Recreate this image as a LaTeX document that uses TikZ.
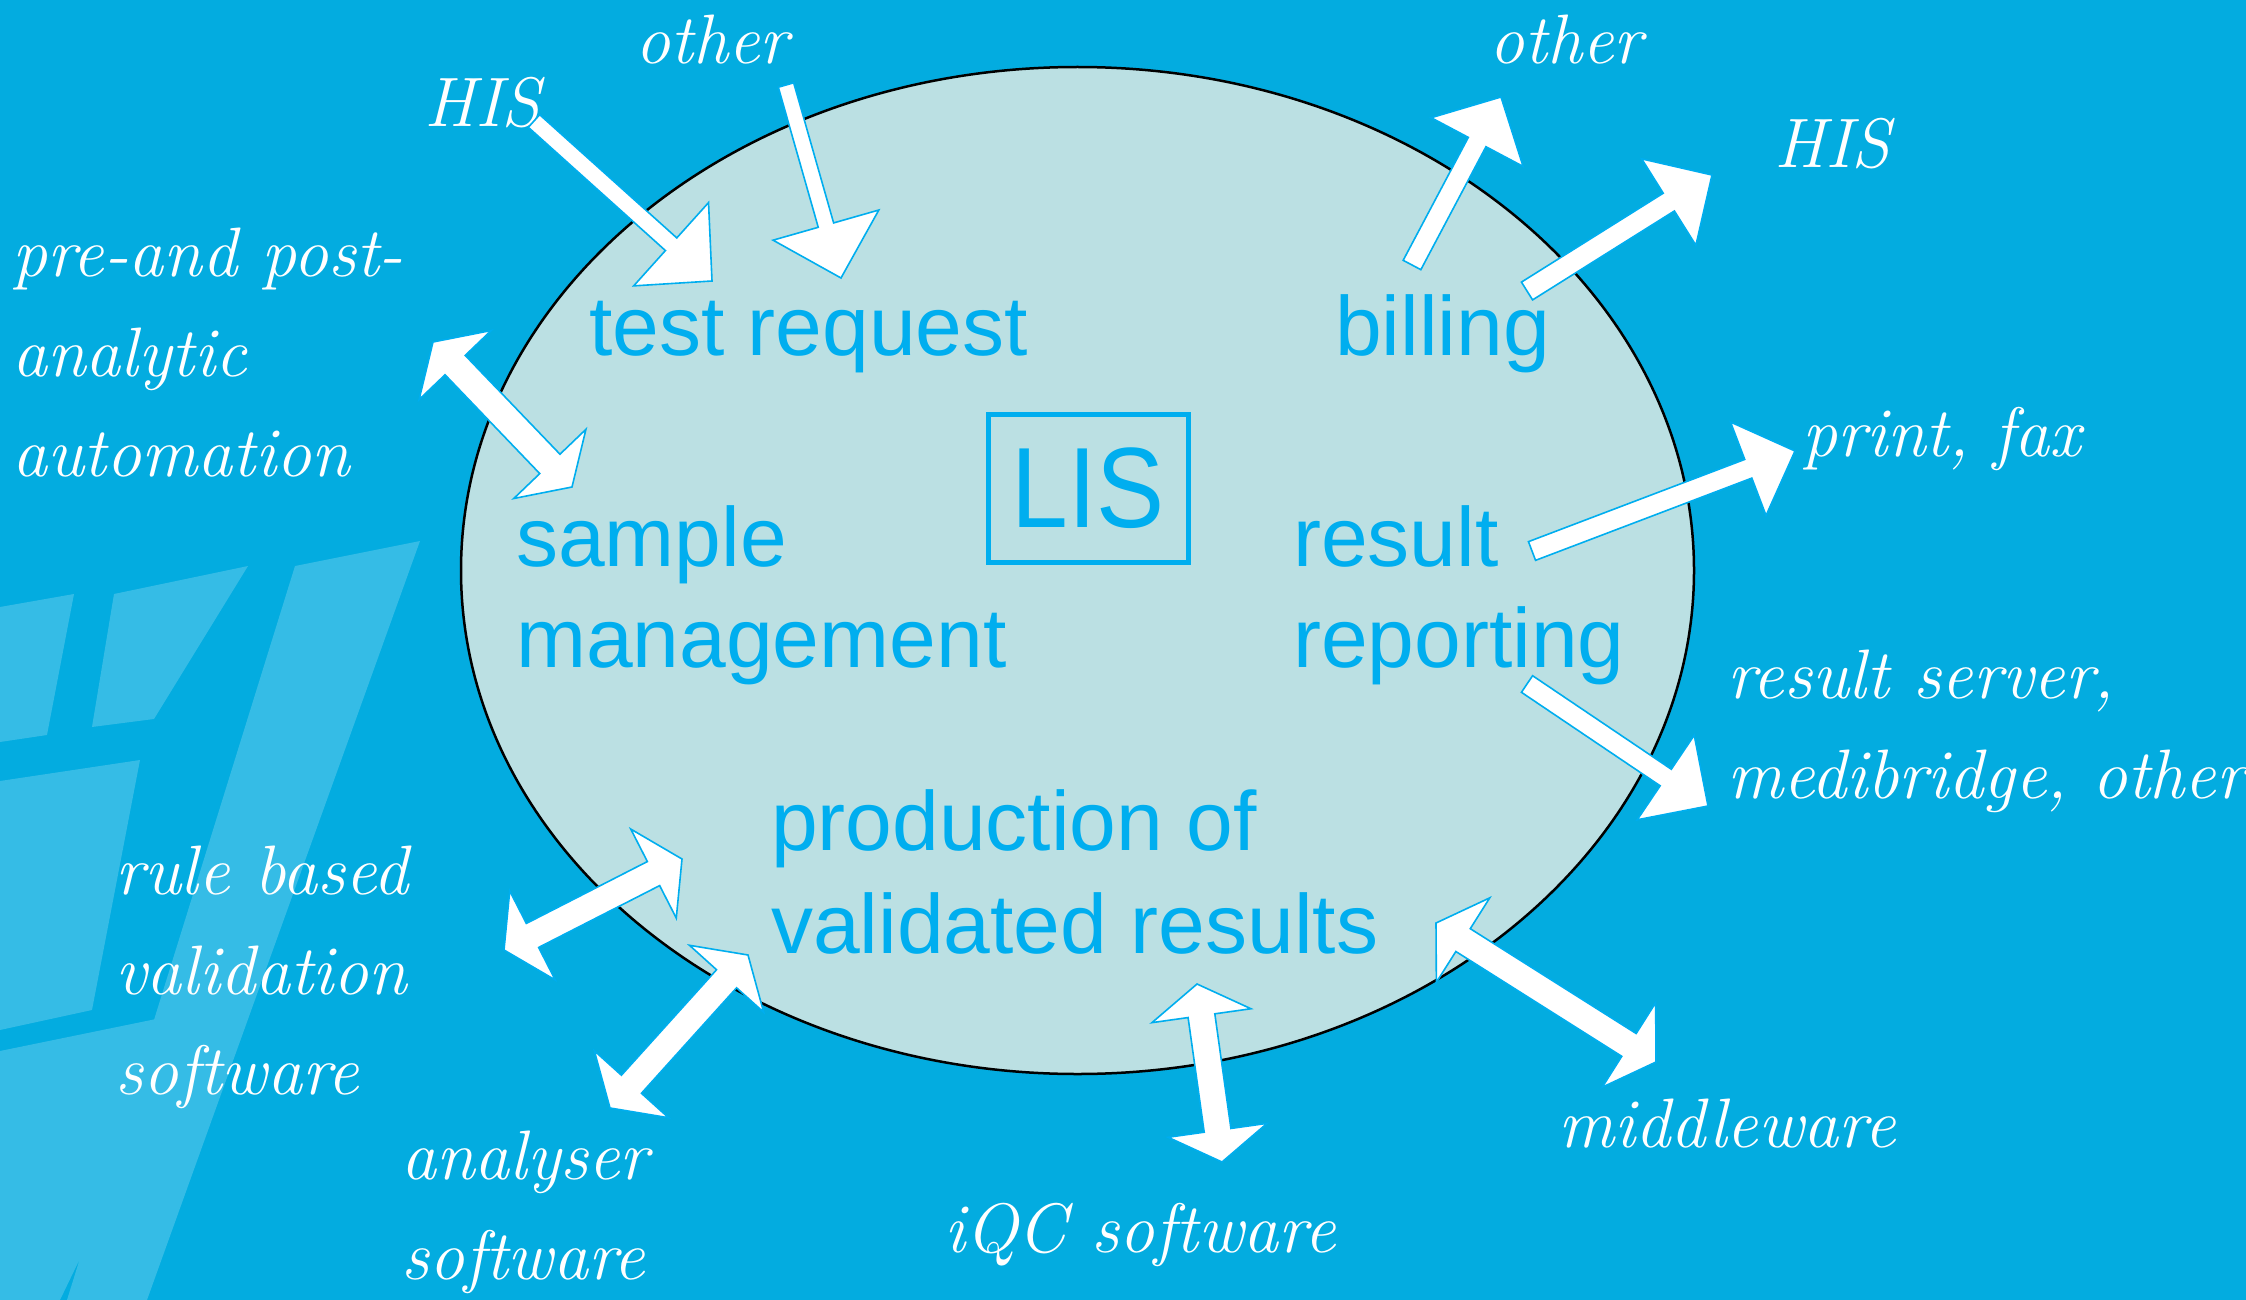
\documentclass[tikz,border=0pt]{standalone}
\usepackage{fontspec}
\usetikzlibrary{calc}
\newfontfamily\sansfam{Liberation Sans}
\newfontfamily\labelfam{Latin Modern Roman}
\definecolor{bgblue}{RGB}{3,172,224}
\definecolor{lisfill}{RGB}{187,224,227}
\definecolor{liscyan}{RGB}{0,174,239}

% single block arrow: tail, tip, half shaft width, half head width, head length
\newcommand\onearrow[5]{%
  \coordinate (hA) at ($(#2)!#5!(#1)$);
  \filldraw[blockarrow] ($(#1)!#3!90:(#2)$) -- ($(hA)!#3!90:(#2)$) -- ($(hA)!#4!90:(#2)$)
    -- (#2) -- ($(hA)!#4!-90:(#2)$) -- ($(hA)!#3!-90:(#2)$) -- ($(#1)!#3!-90:(#2)$) -- cycle;
}
% double block arrow between two tips
\newcommand\twoarrow[5]{%
  \coordinate (hA) at ($(#1)!#5!(#2)$);
  \coordinate (hB) at ($(#2)!#5!(#1)$);
  \filldraw[blockarrow] (#1) -- ($(hA)!#4!90:(#2)$) -- ($(hA)!#3!90:(#2)$) -- ($(hB)!#3!90:(#2)$)
    -- ($(hB)!#4!90:(#2)$) -- (#2) -- ($(hB)!#4!-90:(#2)$) -- ($(hB)!#3!-90:(#2)$)
    -- ($(hA)!#3!-90:(#2)$) -- ($(hA)!#4!-90:(#2)$) -- cycle;
}
\newcommand\tallLIS[1]{\scalebox{1}[1.12]{#1}}

\begin{document}
\begin{tikzpicture}[x=1pt,y=-1pt,
  blockarrow/.style={fill=white, draw=liscyan, line width=1.6pt, line join=miter},
  main/.style={anchor=base west, inner sep=0pt, text=liscyan, align=left,
    font=\sansfam\fontsize{84}{101}\selectfont},
  lbl/.style={inner sep=0pt, text=white, align=left,
    font=\labelfam\itshape\fontsize{70}{100}\selectfont},
  watermark/.style={fill=white, fill opacity=0.2}]

% page and background
\useasboundingbox (0,0) rectangle (2246,1300);
\fill[bgblue] (0,0) rectangle (2246,1300);

% faint emblem on the left (one path, so overlaps are not brighter)
\fill[watermark] (0,607) -- (74,594) -- (47,735) -- (0,742) -- cycle
  (114,594) -- (248,566) -- (154,719) -- (92,727) -- cycle
  (0,781) -- (140,760) -- (92,1010) -- (0,1030) -- cycle
  (295,566) -- (420,541) -- (147,1300) -- (67,1300) -- cycle
  (0,1051) -- (200,1010) -- (60,1300) -- (0,1300) -- cycle;

% the LIS ellipse
\filldraw[fill=lisfill, draw=black, line width=2.5pt] (1077.5,570.5) ellipse [x radius=616.5, y radius=503.5];

% functions inside (base = baseline of the last line)
\node[main] (treq) at (589,355) {test request};
\node[main] (bill) at (1335,355) {billing};
\node[main] (smp) at (516,667) {sample\\management};
\node[main] (res) at (1293,667) {result\\reporting};
\node[main, font=\sansfam\fontsize{84}{103}\selectfont] (prod) at (771,953) {production of\\validated results};
\node[draw=liscyan, line width=5pt, minimum width=200pt, minimum height=148pt,
      text=liscyan, font=\sansfam\fontsize{102}{110}\selectfont] (lis) at (1088,488) {\tallLIS{LIS}};

% partner systems
\node[lbl, anchor=base] (other1) at (712,64) {other};
\node[lbl, anchor=base] (his1) at (482,127) {HIS};
\node[lbl, anchor=base west] (auto) at (12,476) {pre-and post-\\analytic\\automation};
\node[lbl, anchor=base] (other2) at (1566,64) {other};
\node[lbl, anchor=base] (his2) at (1832,168) {HIS};
\node[lbl, anchor=base west] (print) at (1802,456) {print, fax};
\node[lbl, anchor=base west] (rserv) at (1727,798) {result server,\\medibridge, other};
\node[lbl, anchor=base] (mid) at (1727,1147) {middleware};
\node[lbl, anchor=base] (iqc) at (1140,1252) {iQC software};
\node[lbl, anchor=base west] (anal) at (401,1279) {analyser\\software};
\node[lbl, anchor=base west] (rule) at (115,1094) {rule based\\validation\\software};

% arrow end points
\coordinate (his1-out) at (534,121);   \coordinate (treq-in1) at (712,281);
\coordinate (oth1-out) at (786,85);    \coordinate (treq-in2) at (841,278);
\coordinate (auto-end) at (433,342);   \coordinate (smp-end) at (572,487);
\coordinate (bill-out1) at (1412,265); \coordinate (oth2-in) at (1501,97);
\coordinate (bill-out2) at (1527,291); \coordinate (his2-in) at (1712,175);
\coordinate (res-out1) at (1532,551);  \coordinate (print-in) at (1795,451);
\coordinate (res-out2) at (1527,684);  \coordinate (rserv-in) at (1708,806);
\coordinate (prod-mid) at (1436,923);  \coordinate (mid-end) at (1656,1062);
\coordinate (prod-iqc) at (1197,984);  \coordinate (iqc-end) at (1222,1162);
\coordinate (prod-rule) at (682,859);  \coordinate (rule-end) at (504,950);
\coordinate (prod-anal) at (748,955);  \coordinate (anal-end) at (610,1108);

% arrows
\onearrow{his1-out}{treq-in1}{8.5pt}{56pt}{55pt}
\onearrow{oth1-out}{treq-in2}{8pt}{55pt}{55pt}
\twoarrow{auto-end}{smp-end}{14pt}{50pt}{32pt}
\onearrow{bill-out1}{oth2-in}{10pt}{52pt}{51pt}
\onearrow{bill-out2}{his2-in}{10.5pt}{51pt}{51pt}
\onearrow{res-out1}{print-in}{10pt}{50pt}{50pt}
\onearrow{res-out2}{rserv-in}{10pt}{51pt}{51pt}
\twoarrow{prod-mid}{mid-end}{13.5pt}{50pt}{32pt}
\twoarrow{prod-iqc}{iqc-end}{13.5pt}{50pt}{32pt}
\twoarrow{prod-rule}{rule-end}{13.5pt}{50pt}{32pt}
\twoarrow{prod-anal}{anal-end}{13.5pt}{50pt}{32pt}
\end{tikzpicture}
\end{document}
